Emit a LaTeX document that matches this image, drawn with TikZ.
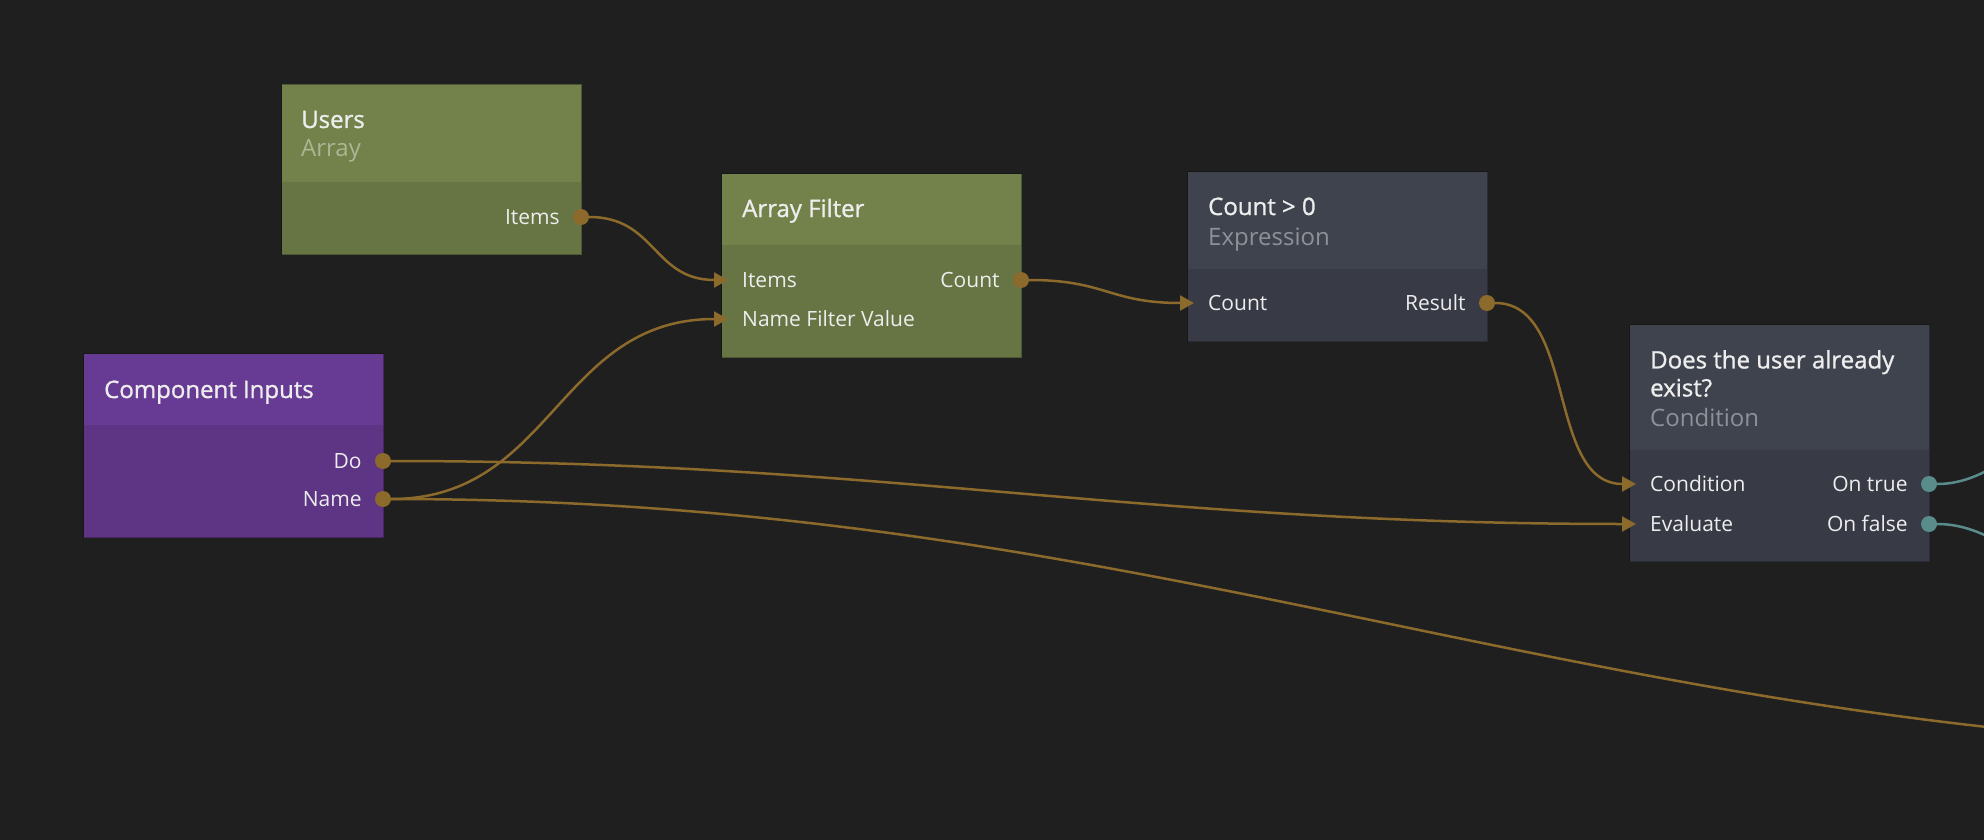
\documentclass[tikz,border=0pt]{standalone}
\usepackage{fontspec}
\setmainfont{Open Sans}
\newfontfamily\headfont{Open Sans}[FakeBold=1.1]
\usetikzlibrary{positioning, arrows.meta}

\definecolor{canvas}{HTML}{1F1F1F}
\definecolor{greenhead}{HTML}{72824A}
\definecolor{greenbody}{HTML}{677545}
\definecolor{purplehead}{HTML}{673A93}
\definecolor{purplebody}{HTML}{5E3584}
\definecolor{greyhead}{HTML}{3F434E}
\definecolor{greybody}{HTML}{383B46}
\definecolor{wirebrown}{HTML}{8C6A2C}
\definecolor{wireteal}{HTML}{5A8C8C}
\definecolor{ink}{HTML}{EDEDED}
\definecolor{subgreen}{HTML}{ACB594}
\definecolor{subgrey}{HTML}{8F9199}

\begin{document}
\begin{tikzpicture}[x=1pt, y=-1pt, >={Triangle[length=14pt, width=15pt]},
  box/.style={rectangle, anchor=north west, inner sep=0pt, minimum width=300pt, draw=black, draw opacity=0.25, line width=1pt},
  headbox/.style={rectangle, anchor=north west, inner sep=0pt, minimum width=299pt},
  title/.style={anchor=base west, inner sep=0pt, text=ink, font=\headfont\fontsize{24}{28}\selectfont},
  subtitle/.style={anchor=base west, inner sep=0pt, font=\fontsize{24}{28}\selectfont},
  port/.style={inner sep=0pt, text=ink, font=\fontsize{21}{25}\selectfont},
  portdot/.style={circle, inner sep=0pt, minimum size=16pt, fill=#1},
  wire/.style={draw=wirebrown, line width=2.5pt}]
\fill[canvas] (0,0) rectangle (1984,840);
\clip (0,0) rectangle (1984,840);

% Users array
\node (users) [box, fill=greenbody, minimum height=170pt] at (281,84) {};
\node (usershead) [headbox, fill=greenhead, minimum height=97.5pt] at (281.5,84.5) {};
\node (userstitle) [title] at (301,128) {Users};
\node (userstype) [subtitle, text=subgreen] at (301,157) {Array};
\node (usersitems) [portdot=wirebrown] at (581,217) {};
\node (usersitemsl) [port, left=13pt of usersitems] {Items};

% Array Filter
\node (filter) [box, fill=greenbody, minimum height=184pt] at (721,173) {};
\node (filterhead) [headbox, fill=greenhead, minimum height=71.5pt] at (721.5,173.5) {};
\node (filtertitle) [title] at (742,217) {Array Filter};
\coordinate (filteritems) at (728,280);
\coordinate (filtername) at (728,319);
\node (filteritemsl) [port, right=14pt of filteritems] {Items};
\node (filternamel) [port, right=14pt of filtername] {Name Filter Value};
\node (filtercount) [portdot=wirebrown] at (1021,280) {};
\node (filtercountl) [port, left=13pt of filtercount] {Count};

% Expression
\node (expr) [box, fill=greybody, minimum height=170pt] at (1187,171) {};
\node (exprhead) [headbox, fill=greyhead, minimum height=97.5pt] at (1187.5,171.5) {};
\node (exprtitle) [title] at (1208,215) {Count > 0};
\node (exprtype) [subtitle, text=subgrey] at (1208,245) {Expression};
\coordinate (exprcount) at (1194,303);
\node (exprcountl) [port, right=14pt of exprcount] {Count};
\node (exprresult) [portdot=wirebrown] at (1487,303) {};
\node (exprresultl) [port, left=13pt of exprresult] {Result};

% Component Inputs
\node (inputs) [box, fill=purplebody, minimum height=184pt] at (83,353) {};
\node (inputshead) [headbox, fill=purplehead, minimum height=71.5pt] at (83.5,353.5) {};
\node (inputstitle) [title] at (104,398) {Component Inputs};
\node (inputsdo) [portdot=wirebrown] at (383,461) {};
\node (inputsname) [portdot=wirebrown] at (383,499) {};
\node (inputsdol) [port, left=13pt of inputsdo] {Do};
\node (inputsnamel) [port, left=13pt of inputsname] {Name};

% Condition
\node (cond) [box, fill=greybody, minimum height=237pt] at (1629,324) {};
\node (condhead) [headbox, fill=greyhead, minimum height=125.5pt] at (1629.5,324.5) {};
\node (condtitle) [title, anchor=north west, align=left] at (1650,350) {Does the user already\\exist?};
\node (condtype) [subtitle, text=subgrey] at (1650,426) {Condition};
\coordinate (condcond) at (1636,484);
\coordinate (condeval) at (1636,524);
\node (condcondl) [port, right=14pt of condcond] {Condition};
\node (condevall) [port, right=14pt of condeval] {Evaluate};
\node (condtrue) [portdot=wireteal] at (1929,484) {};
\node (condfalse) [portdot=wireteal] at (1929,524) {};
\node (condtruel) [port, left=13pt of condtrue] {On true};
\node (condfalsel) [port, left=13pt of condfalse] {On false};

% wires leaving the canvas
\coordinate (offtrue) at (2130,400);
\coordinate (offfalse) at (2130,600);
\coordinate (offname) at (2400,750);

\draw[wire, ->] (usersitems) .. controls +(75,0) and +(-75,0) .. (filteritems);
\draw[wire, ->] (inputsname) .. controls +(170,0) and +(-170,0) .. (filtername);
\draw[wire, ->] (filtercount) .. controls +(85,0) and +(-85,0) .. (exprcount);
\draw[wire, ->] (exprresult) .. controls +(90,0) and +(-90,0) .. (condcond);
\draw[wire, ->] (inputsdo) .. controls +(500,0) and +(-500,0) .. (condeval);
\draw[wire] (inputsname) .. controls +(800,0) and +(-800,0) .. (offname);
\draw[wire, draw=wireteal] (condtrue) .. controls +(80,0) and +(-80,0) .. (offtrue);
\draw[wire, draw=wireteal] (condfalse) .. controls +(80,0) and +(-80,0) .. (offfalse);
\end{tikzpicture}
\end{document}
